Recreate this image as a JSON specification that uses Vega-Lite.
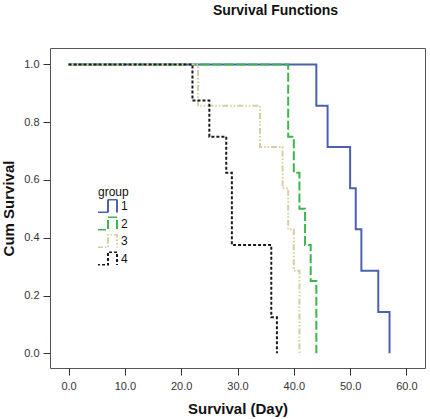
{
  "$schema": "https://vega.github.io/schema/vega-lite/v6.json",
  "autosize": "none",
  "width": 375,
  "height": 320,
  "padding": {"left": 50, "top": 48, "right": 5, "bottom": 51},
  "background": "white",
  "title": {
    "text": "Survival Functions",
    "font": "Liberation Sans",
    "fontSize": 14,
    "fontWeight": "bold",
    "color": "#111",
    "anchor": "middle",
    "dx": 38,
    "offset": 30
  },
  "data": {
    "values": [
      {"group": "1", "day": 0, "surv": 1},
      {"group": "1", "day": 44, "surv": 0.857},
      {"group": "1", "day": 46, "surv": 0.714},
      {"group": "1", "day": 50, "surv": 0.571},
      {"group": "1", "day": 51, "surv": 0.429},
      {"group": "1", "day": 52, "surv": 0.286},
      {"group": "1", "day": 55, "surv": 0.143},
      {"group": "1", "day": 57, "surv": 0},
      {"group": "2", "day": 0, "surv": 1},
      {"group": "2", "day": 39, "surv": 0.75},
      {"group": "2", "day": 40, "surv": 0.625},
      {"group": "2", "day": 41, "surv": 0.5},
      {"group": "2", "day": 42, "surv": 0.375},
      {"group": "2", "day": 43, "surv": 0.25},
      {"group": "2", "day": 44, "surv": 0},
      {"group": "3", "day": 0, "surv": 1},
      {"group": "3", "day": 23, "surv": 0.857},
      {"group": "3", "day": 34, "surv": 0.714},
      {"group": "3", "day": 38, "surv": 0.571},
      {"group": "3", "day": 39, "surv": 0.429},
      {"group": "3", "day": 40, "surv": 0.286},
      {"group": "3", "day": 41, "surv": 0},
      {"group": "4", "day": 0, "surv": 1},
      {"group": "4", "day": 22, "surv": 0.875},
      {"group": "4", "day": 25, "surv": 0.75},
      {"group": "4", "day": 28, "surv": 0.625},
      {"group": "4", "day": 29, "surv": 0.375},
      {"group": "4", "day": 36, "surv": 0.125},
      {"group": "4", "day": 37, "surv": 0}
    ]
  },
  "mark": {"type": "line", "interpolate": "step-after", "strokeWidth": 2},
  "encoding": {
    "x": {
      "field": "day",
      "type": "quantitative",
      "scale": {"domain": [-3.3, 63.3], "nice": false, "zero": false},
      "axis": {
        "title": "Survival (Day)",
        "values": [0, 10, 20, 30, 40, 50, 60],
        "format": ".1f",
        "titlePadding": 10
      }
    },
    "y": {
      "field": "surv",
      "type": "quantitative",
      "scale": {"domain": [-0.051, 1.057], "nice": false, "zero": false},
      "axis": {
        "title": "Cum Survival",
        "values": [0, 0.2, 0.4, 0.6, 0.8, 1.0],
        "format": ".1f",
        "titlePadding": 7
      }
    },
    "color": {
      "field": "group",
      "type": "nominal",
      "scale": {"domain": ["1", "2", "3", "4"], "range": ["#4C60B0", "#3DB54C", "#D6CDA2", "#1A1A1A"]},
      "legend": {
        "title": "group",
        "orient": "none",
        "legendX": 48,
        "legendY": 139
      }
    },
    "strokeDash": {
      "field": "group",
      "type": "nominal",
      "scale": {"domain": ["1", "2", "3", "4"], "range": [[1, 0], [9, 3], [6, 2, 1.5, 2, 1.5, 2], [3, 2]]},
      "legend": {
        "title": "group",
        "orient": "none",
        "legendX": 48,
        "legendY": 139
      }
    }
  },
  "config": {
    "font": "Liberation Sans",
    "view": {"stroke": "#555", "strokeWidth": 1},
    "axis": {
      "grid": false,
      "domain": false,
      "tickSize": 7,
      "tickColor": "#333",
      "tickWidth": 1,
      "labelFont": "Liberation Sans",
      "labelFontSize": 11,
      "labelColor": "#333",
      "labelPadding": 5,
      "titleFont": "Liberation Sans",
      "titleFontSize": 15,
      "titleFontWeight": "bold",
      "titleColor": "#111"
    },
    "axisY": {"labelPadding": 4},
    "legend": {
      "symbolType": "M-1.4,1.3H0.8V-1.3H2.6V1.3",
      "symbolSize": 100,
      "symbolStrokeWidth": 2,
      "symbolFillColor": "transparent",
      "clipHeight": 14,
      "titleFont": "Liberation Sans",
      "titleFontSize": 12,
      "titleFontWeight": "normal",
      "titleColor": "#111",
      "titlePadding": 0,
      "labelFont": "Liberation Sans",
      "labelFontSize": 12,
      "labelColor": "#111",
      "labelOffset": 11,
      "rowPadding": 3.5,
      "padding": 0
    }
  }
}
